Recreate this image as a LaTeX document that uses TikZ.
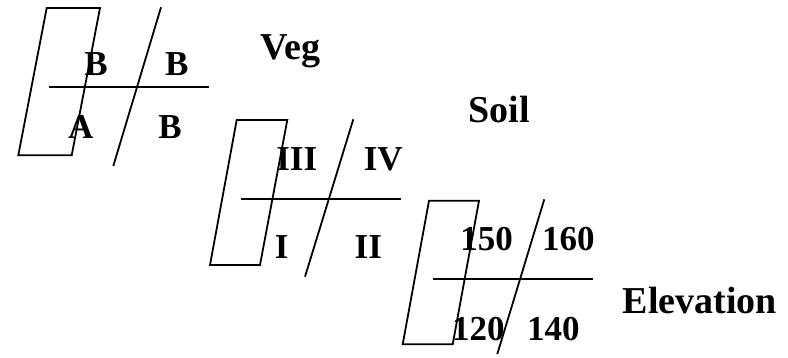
\documentclass[tikz,border=0pt]{standalone}
\usepackage{fontspec}
\setmainfont{Liberation Serif}
\usepackage{tikz}
\usetikzlibrary{positioning}

\tikzset{
  cell/.style={anchor=base,inner sep=0pt,font=\fontsize{35}{38}\selectfont\bfseries},
  title/.style={anchor=base,inner sep=0pt,font=\fontsize{38}{41}\selectfont\bfseries},
  edge/.style={line width=1.8pt}
}

\begin{document}
\begin{tikzpicture}[x=1pt,y=-1pt]
  \useasboundingbox (0,0) rectangle (788,357);
  % veg layer
  \draw[edge](46.7,8)--(100,8)--(71.7,155.3)--(18.3,155.3)--cycle;
  \coordinate (vt) at (161,7.3); \coordinate (vb) at (113.3,166);
  \coordinate (vl) at (49.3,86.7); \coordinate (vr) at (209,86.7);
  \draw[edge](vt)--(vb); \draw[edge](vl)--(vr);
  \node[cell] (v1) at (96,75){B}; \node[cell] (v2) at (176.7,75){B};
  \node[cell] (v3) at (80.7,138.5){A}; \node[cell] (v4) at (170,138.5){B};
  \node[title] (veg) at (290.8,59.3){Veg};
  % soil layer
  \draw[edge](236.7,120)--(287.3,120)--(260,265)--(210,265)--cycle;
  \coordinate (st) at (353.3,119.3); \coordinate (sb) at (305,276.7);
  \coordinate (sl) at (241,199); \coordinate (sr) at (401,199);
  \draw[edge](st)--(sb); \draw[edge](sl)--(sr);
  \node[cell] (s1) at (296.7,170){III}; \node[cell] (s2) at (383.3,170){IV};
  \node[cell] (s3) at (281.7,258.3){I}; \node[cell] (s4) at (368.3,258.3){II};
  \node[title] (soil) at (499.2,122.3){Soil};
  % elevation layer
  \draw[edge](429,200.7)--(479,200.7)--(452.7,344.3)--(402.7,344.3)--cycle;
  \coordinate (et) at (544.3,199.3); \coordinate (eb) at (497.3,354);
  \coordinate (el) at (433.3,278.7); \coordinate (er) at (592.7,278.7);
  \draw[edge](et)--(eb); \draw[edge](el)--(er);
  \node[cell] (e1) at (486.7,250){150}; \node[cell] (e2) at (568.3,250){160};
  \node[cell] (e3) at (478.3,340){120}; \node[cell] (e4) at (553.3,340){140};
  \node[title] (elev) at (700,313.3){Elevation};
\end{tikzpicture}
\end{document}
